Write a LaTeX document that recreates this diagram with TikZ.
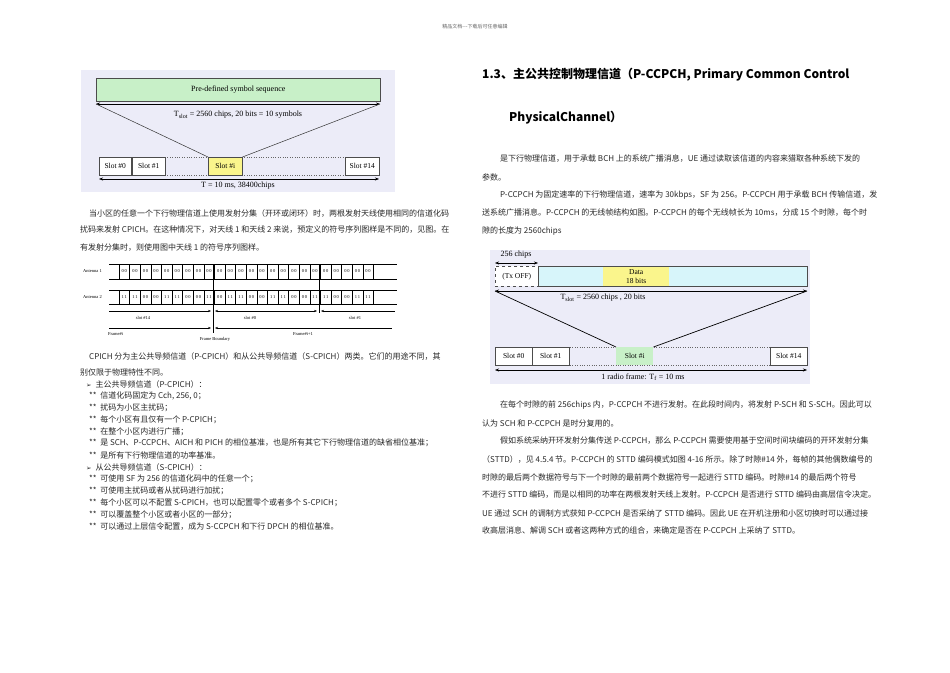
\documentclass[tikz,border=0pt]{standalone}
\usepackage{fontspec}
\setmainfont{Liberation Serif}
\newfontfamily\cjk{Noto Sans CJK SC}
\newfontfamily\dejavu{DejaVu Sans}
\usetikzlibrary{arrows.meta}
\definecolor{bgl}{RGB}{236,236,248}
\definecolor{grn}{RGB}{200,240,200}
\definecolor{yel}{RGB}{250,245,140}
\definecolor{cyn}{RGB}{215,245,250}
\definecolor{txt}{RGB}{40,40,40}
\newcommand{\arw}{{\dejavu\fontsize{6.5}{7}\selectfont ➢}}
\tikzset{
  bx/.style={draw=black!70,line width=0.5pt,inner sep=0pt,font=\fontsize{7.5}{8}\selectfont},
  ar/.style={{Stealth[length=4pt]}-{Stealth[length=4pt]},line width=0.5pt},
  ln/.style={anchor=west,inner sep=0pt,text=txt,font=\cjk\fontsize{8}{8.5}\selectfont},
  fl/.style={inner sep=0pt,font=\fontsize{8}{9}\selectfont},
  sm/.style={inner sep=0pt,font=\fontsize{4.5}{5}\selectfont}
}
\begin{document}
\begin{tikzpicture}[x=1pt,y=-1pt]
\useasboundingbox (0,0) rectangle (950,672);
\fill[white] (0,0) rectangle (950,672);
\node[inner sep=0pt,text=black!60,font=\cjk\fontsize{5}{6}\selectfont] (hdr) at (475,27) {精品文档---下载后可任意编辑};

% ---------- figure 1
\fill[bgl] (81,70) rectangle (395,192);
\node[bx,fill=grn,minimum width=284pt,minimum height=23pt,anchor=north west,font=\fontsize{8}{9}\selectfont] (pre) at (96,78) {Pre-defined symbol sequence};
\coordinate (a1) at (96,104); \coordinate (a2) at (380,104);
\draw[ar] (a1) -- (a2);
\node[fl] (tslot) at (238,115) {T\textsubscript{slot} = 2560 chips, 20 bits = 10 symbols};
\draw[black!60,dotted] (165,157) -- (345,157) (165,175) -- (345,175);
\node[bx,fill=white,minimum width=32pt,minimum height=18pt,anchor=north west] (s0) at (99,157) {Slot \#0};
\node[bx,fill=white,minimum width=33pt,minimum height=18pt,anchor=north west] (s1) at (132,157) {Slot \#1};
\node[bx,fill=yel,minimum width=34pt,minimum height=18pt,anchor=north west] (si) at (208,157) {Slot \#i};
\node[bx,fill=white,minimum width=34pt,minimum height=18pt,anchor=north west] (s14) at (345,157) {Slot \#14};
\draw[black!80,line width=0.5pt] (a1) -- (si.north west) (a2) -- (si.north east);
\coordinate (b1) at (99,179); \coordinate (b2) at (379,179);
\draw[ar] (b1) -- (b2);
\node[fl] (tf) at (238,186) {T = 10 ms, 38400chips};

% ---------- paragraph 1
\node[ln] (p1a) at (89,213) {当小区的任意一个下行物理信道上使用发射分集（开环或闭环）时，两根发射天线使用相同的信道化码};
\node[ln] (p1b) at (80,230) {扰码来发射 CPICH。在这种情况下，对天线 1 和天线 2 来说，预定义的符号序列图样是不同的，见图。在};
\node[ln] (p1c) at (80,248) {有发射分集时，则使用图中天线 1 的符号序列图样。};

% ---------- antenna figure
\node[sm,anchor=west] (an1) at (83,271) {Antenna 1};
\node[sm,anchor=west] (an2) at (83,297) {Antenna 2};
\draw[line width=0.4pt] (109,264) -- (397,264) (109,279) -- (397,279) (109,290) -- (397,290) (109,304) -- (397,304);
\foreach \i in {0,...,24}{
  \draw[line width=0.4pt] (119+\i*10.6,264) -- (119+\i*10.6,279);
  \draw[line width=0.4pt] (119+\i*10.6,290) -- (119+\i*10.6,304);
}
\foreach \i in {0,...,23}{
  \node[sm] at (124.3+\i*10.6,271.5) {0\,0};
}
\foreach \b [count=\i from 0] in {11,11,00,00,11,11,00,00,11,00,11,11,00,00,11,11,00,00,11,11,00,00,11,11}{
  \node[sm] at (124.3+\i*10.6,297) {\ifnum\b=11 1\,1\else 0\,0\fi};
}
\coordinate (fb) at (213,264); \coordinate (fbe) at (213,333);
\coordinate (sb) at (319,264); \coordinate (sbe) at (319,313);
\draw[line width=0.5pt] (fb) -- (fbe) (sb) -- (sbe);
\coordinate (r1) at (109,311); \coordinate (r2) at (395,311);
\draw[-{Stealth[length=3pt]},line width=0.4pt] (r1) -- (211,311);
\draw[{Stealth[length=3pt]}-{Stealth[length=3pt]},line width=0.4pt] (215,311) -- (317,311);
\draw[{Stealth[length=3pt]}-,line width=0.4pt] (321,311) -- (r2);
\coordinate (q1) at (109,328); \coordinate (q2) at (392,328);
\draw[-{Stealth[length=3pt]},line width=0.4pt] (q1) -- (211,328);
\draw[{Stealth[length=3pt]}-,line width=0.4pt] (215,328) -- (q2);
\node[sm] (sl14) at (143,318) {slot \#14};
\node[sm] (sl0) at (250,318) {slot \#0};
\node[sm] (sl1) at (355,318) {slot \#1};
\node[sm,anchor=west] (fi) at (108,334) {Frame\#i};
\node[sm] (fbt) at (215,339) {Frame Boundary};
\node[sm] (fi1) at (303,334) {Frame\#i+1};

% ---------- CPICH list
\node[ln] (c1) at (89,356) {CPICH 分为主公共导频信道（P-CPICH）和从公共导频信道（S-CPICH）两类。它们的用途不同，其};
\node[ln] (c2) at (80,372) {别仅限于物理特性不同。};
\node[ln] (c3) at (86,384) {\arw\hspace{4pt}主公共导频信道（P-CPICH）：};
\node[ln] (c4) at (89,396) {**\ \ 信道化码固定为 Cch, 256, 0；};
\node[ln] (c5) at (89,408) {**\ \ 扰码为小区主扰码；};
\node[ln] (c6) at (89,420) {**\ \ 每个小区有且仅有一个 P-CPICH；};
\node[ln] (c7) at (89,432) {**\ \ 在整个小区内进行广播；};
\node[ln] (c8) at (89,443) {**\ \ 是 SCH、P-CCPCH、AICH 和 PICH 的相位基准，也是所有其它下行物理信道的缺省相位基准；};
\node[ln] (c9) at (89,455) {**\ \ 是所有下行物理信道的功率基准。};
\node[ln] (c10) at (86,467) {\arw\hspace{4pt}从公共导频信道（S-CPICH）：};
\node[ln] (c11) at (89,479) {**\ \ 可使用 SF 为 256 的信道化码中的任意一个；};
\node[ln] (c12) at (89,491) {**\ \ 可使用主扰码或者从扰码进行加扰；};
\node[ln] (c13) at (89,503) {**\ \ 每个小区可以不配置 S-CPICH，也可以配置零个或者多个 S-CPICH；};
\node[ln] (c14) at (89,515) {**\ \ 可以覆盖整个小区或者小区的一部分；};
\node[ln] (c15) at (89,527) {**\ \ 可以通过上层信令配置，成为 S-CCPCH 和下行 DPCH 的相位基准。};

% ---------- right column
\node[ln,font=\cjk\bfseries\fontsize{12}{13}\selectfont,text=black] (t1) at (482,75) {1.3、主公共控制物理信道（P-CCPCH, Primary Common Control};
\node[ln,font=\cjk\bfseries\fontsize{12}{13}\selectfont,text=black] (t2) at (509,118) {PhysicalChannel）};
\node[ln] (r1a) at (500,159) {是下行物理信道，用于承载 BCH 上的系统广播消息，UE 通过读取该信道的内容来猎取各种系统下发的};
\node[ln] (r1b) at (482,177) {参数。};
\node[ln] (r1c) at (500,195) {P-CCPCH 为固定速率的下行物理信道，速率为 30kbps，SF 为 256。P-CCPCH 用于承载 BCH 传输信道，发};
\node[ln] (r1d) at (482,213) {送系统广播消息。P-CCPCH 的无线帧结构如图。P-CCPCH 的每个无线帧长为 10ms，分成 15 个时隙，每个时};
\node[ln] (r1e) at (482,231) {隙的长度为 2560chips};

% ---------- figure 2
\fill[bgl] (490,250) rectangle (810,384);
\node[fl] (c256) at (516,255) {256 chips};
\coordinate (d1) at (495,263); \coordinate (d2) at (538,263);
\draw[ar] (d1) -- (d2);
\node[bx,dashed,fill=white,minimum width=43pt,minimum height=20pt,anchor=north west] (tx) at (495,266) {(Tx OFF)};
\node[bx,fill=cyn,minimum width=269pt,minimum height=20pt,anchor=north west] (cy) at (538,266) {};
\node[inner sep=0pt,fill=yel,minimum width=66pt,minimum height=19pt,anchor=north west,align=center,font=\fontsize{7.5}{9}\selectfont] (data) at (603,266.5) {Data\\18 bits};
\coordinate (e1) at (495,291); \coordinate (e2) at (807,291);
\draw[ar] (e1) -- (e2);
\node[fl] (ts2) at (603,298) {T\textsubscript{slot} = 2560 chips , 20 bits};
\draw[black!60,dotted] (570,347) -- (770,347) (570,365) -- (770,365);
\node[bx,fill=white,minimum width=37pt,minimum height=18pt,anchor=north west] (u0) at (495,347) {Slot \#0};
\node[bx,fill=white,minimum width=37pt,minimum height=18pt,anchor=north west] (u1) at (532,347) {Slot \#1};
\node[bx,draw=none,fill=grn,minimum width=37pt,minimum height=18pt,anchor=north west] (ui) at (616,347) {Slot \#i};
\node[bx,fill=white,minimum width=37pt,minimum height=18pt,anchor=north west] (u14) at (770,347) {Slot \#14};
\draw[line width=0.7pt] (e1) -- (ui.north west) (e2) -- (ui.north east);
\coordinate (g1) at (495,370); \coordinate (g2) at (807,370);
\draw[ar] (g1) -- (g2);
\node[fl] (rf) at (643,377) {1 radio frame: T\textsubscript{f} = 10 ms};

\node[ln] (s1) at (500,405) {在每个时隙的前 256chips 内，P-CCPCH 不进行发射。在此段时间内，将发射 P-SCH 和 S-SCH。因此可以};
\node[ln] (s2) at (482,423) {认为 SCH 和 P-CCPCH 是时分复用的。};
\node[ln] (s3) at (500,441) {假如系统采纳开环发射分集传送 P-CCPCH，那么 P-CCPCH 需要使用基于空间时间块编码的开环发射分集};
\node[ln] (s4) at (482,459) {（STTD），见 4.5.4 节。P-CCPCH 的 STTD 编码模式如图 4-16 所示。除了时隙\#14 外，每帧的其他偶数编号的};
\node[ln] (s5) at (482,477) {时隙的最后两个数据符号与下一个时隙的最前两个数据符号一起进行 STTD 编码。时隙\#14 的最后两个符号};
\node[ln] (s6) at (482,495) {不进行 STTD 编码，而是以相同的功率在两根发射天线上发射。P-CCPCH 是否进行 STTD 编码由高层信令决定。};
\node[ln] (s7) at (482,513) {UE 通过 SCH 的调制方式获知 P-CCPCH 是否采纳了 STTD 编码。因此 UE 在开机注册和小区切换时可以通过接};
\node[ln] (s8) at (482,531) {收高层消息、解调 SCH 或者这两种方式的组合，来确定是否在 P-CCPCH 上采纳了 STTD。};
\end{tikzpicture}
\end{document}
